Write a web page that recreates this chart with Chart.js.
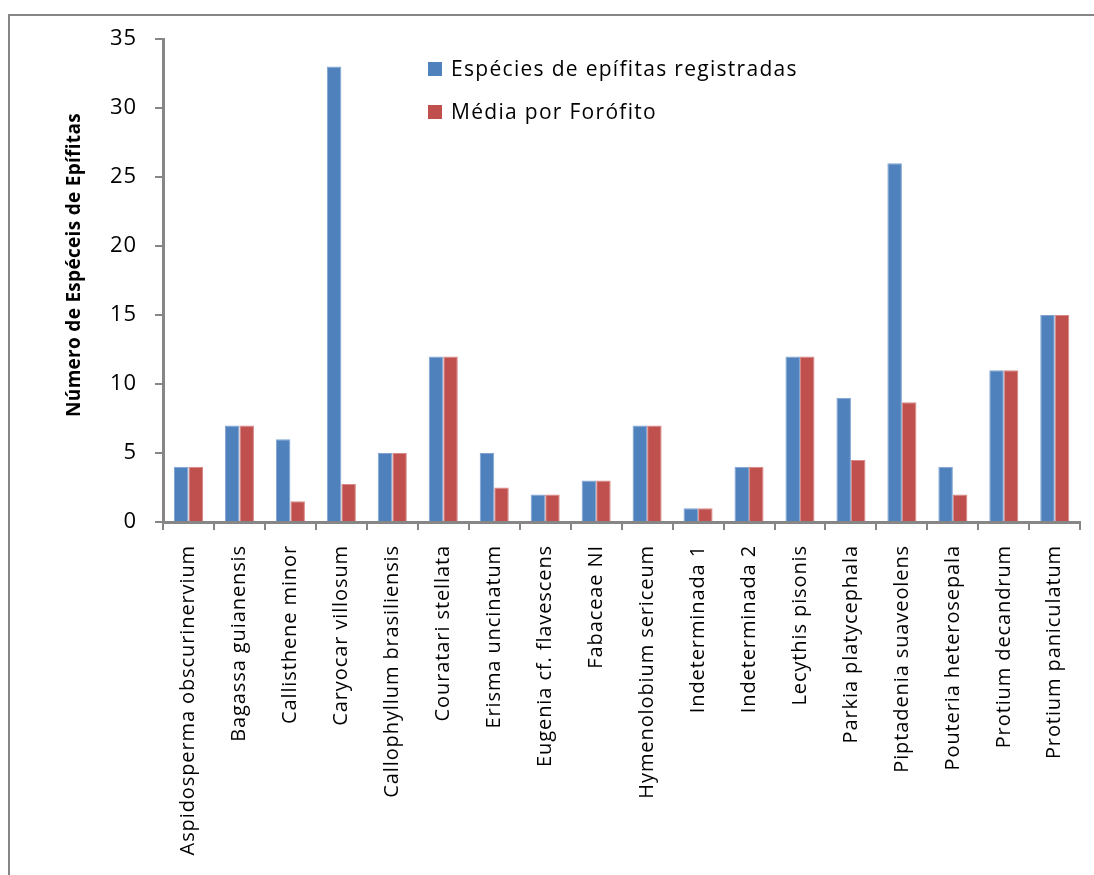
<!DOCTYPE html>
<html>
<head>
<meta charset="utf-8">
<script src="https://cdn.jsdelivr.net/npm/chart.js@4.4.1/dist/chart.umd.min.js"></script>
<style>
  html, body { margin: 0; padding: 0; background: #fff; }
  #wrap { width: 1094px; height: 875px; }
</style>
</head>
<body>
<div id="wrap"><canvas id="chart" width="1094" height="875"></canvas></div>
<script>
const species = [
  "Aspidosperma obscurinervium", "Bagassa guianensis", "Callisthene minor",
  "Caryocar villosum", "Callophyllum brasiliensis", "Couratari stellata",
  "Erisma uncinatum", "Eugenia cf. flavescens", "Fabaceae NI",
  "Hymenolobium sericeum", "Indeterminada 1", "Indeterminada 2",
  "Lecythis pisonis", "Parkia platycephala", "Piptadenia suaveolens",
  "Pouteria heterosepala", "Protium decandrum", "Protium paniculatum"
]
const registradas = [4, 7, 6, 33, 5, 12, 5, 2, 3, 7, 1, 4, 12, 9, 26, 4, 11, 15]
const mediaForofito = [4, 7, 1.5, 2.75, 5, 12, 2.5, 2, 3, 7, 1, 4, 12, 4.5, 8.67, 2, 11, 15]
const yTicks = [0, 5, 10, 15, 20, 25, 30, 35]
const yTitle = "Número de Espéceis de Epífitas"

const FONT = "'Open Sans', 'DejaVu Sans', sans-serif"
const AXIS_GRAY = "#868686"

// outer frame, running off the canvas on the right and bottom;
// also sets the loose letter spacing used by the axis text
const framePlugin = {
  id: "frame",
  beforeDraw(chart) {
    const ctx = chart.ctx
    ctx.letterSpacing = "0.9px"
    ctx.save()
    ctx.strokeStyle = AXIS_GRAY
    ctx.lineWidth = 2
    ctx.strokeRect(9, 15, chart.width + 20, chart.height + 20)
    ctx.restore()
  },
}

// legend inside the plot area plus the rotated y title
const legendPlugin = {
  id: "innerLegend",
  afterDraw(chart) {
    const ctx = chart.ctx
    ctx.save()
    ctx.letterSpacing = "1.3px"
    ctx.font = "21px " + FONT
    ctx.textBaseline = "middle"
    chart.data.datasets.forEach((ds, i) => {
      const y = 69 + i * 43
      ctx.fillStyle = ds.backgroundColor
      ctx.fillRect(428, y - 7, 14, 14)
      ctx.fillStyle = "#000"
      ctx.fillText(ds.label, 451, y + 1)
    })
    ctx.restore()

    ctx.save()
    ctx.letterSpacing = "0.3px"
    ctx.translate(75, 265)
    ctx.rotate(-Math.PI / 2)
    ctx.font = "bold 19px " + FONT
    ctx.textAlign = "center"
    ctx.textBaseline = "middle"
    ctx.fillStyle = "#000"
    ctx.fillText(yTitle, 0, 0)
    ctx.restore()
  },
}

new Chart(document.getElementById("chart"), {
  type: "bar",
  data: {
    labels: species,
    datasets: [
      {
        label: "Espécies de epífitas registradas",
        data: registradas,
        backgroundColor: "#4F81BD",
        borderColor: "#7FA3D0",
        borderWidth: { top: 1, left: 1, right: 1, bottom: 0 },
      },
      {
        label: "Média por Forófito",
        data: mediaForofito,
        backgroundColor: "#C0504D",
        borderColor: "#D78886",
        borderWidth: { top: 1, left: 1, right: 1, bottom: 0 },
      },
    ],
  },
  options: {
    responsive: false,
    animation: false,
    layout: { padding: { left: 0, top: 39, right: 8, bottom: 0 } },
    plugins: {
      legend: { display: false },
      tooltip: { enabled: false },
    },
    datasets: {
      bar: { categoryPercentage: 0.57, barPercentage: 1.0 },
    },
    scales: {
      x: {
        grid: {
          drawOnChartArea: false,
          color: AXIS_GRAY,
          lineWidth: 2,
          tickLength: 8,
        },
        border: { color: AXIS_GRAY, width: 3 },
        ticks: {
          minRotation: 90,
          maxRotation: 90,
          autoSkip: false,
          padding: 15,
          color: "#000",
          font: { family: FONT, size: 20 },
        },
        afterFit(scale) {
          scale.height = 353
        },
      },
      y: {
        min: 0,
        max: 35,
        afterBuildTicks(scale) {
          scale.ticks = yTicks.map((v) => ({ value: v }))
        },
        grid: {
          drawOnChartArea: false,
          color: AXIS_GRAY,
          lineWidth: 2,
          tickLength: 8,
        },
        border: { color: AXIS_GRAY, width: 3 },
        ticks: {
          padding: 18,
          color: "#000",
          font: { family: FONT, size: 22 },
        },
        afterFit(scale) {
          scale.width = 163
        },
      },
    },
  },
  plugins: [framePlugin, legendPlugin],
})
</script>
</body>
</html>
